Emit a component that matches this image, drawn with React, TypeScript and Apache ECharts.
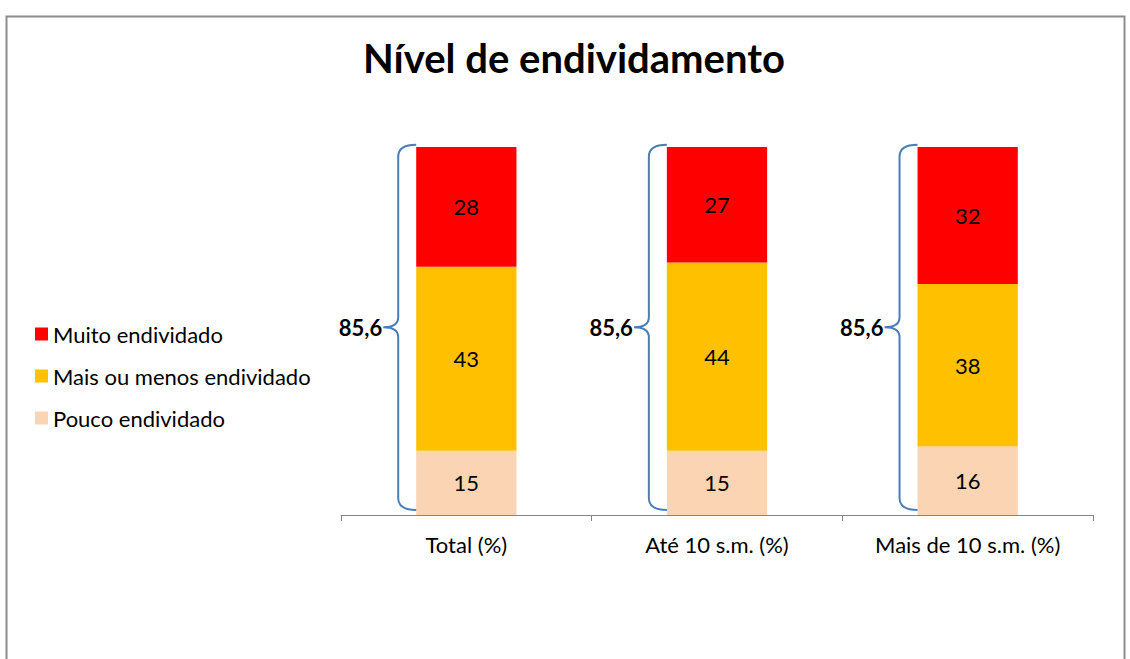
import React, { useEffect, useRef } from "react";
import * as echarts from "echarts";

const categories = ["Total (%)", "Até 10 s.m. (%)", "Mais de 10 s.m. (%)"];
const pouco = [15, 15, 16];
const maisOuMenos = [43, 44, 38];
const muito = [28, 27, 32];
const braceValues = [85.6, 85.6, 85.6];
const legendOrder = ["Muito endividado", "Mais ou menos endividado", "Pouco endividado"];

const FONT = "Lato, 'Open Sans', sans-serif";

export default function App() {
  const ref = useRef<HTMLDivElement>(null);
  useEffect(() => {
    if (!ref.current) return;
    const chart = echarts.init(ref.current, null, { renderer: "svg" });
    const label = {
      show: true,
      position: "inside",
      color: "#000",
      fontSize: 22,
      fontFamily: FONT,
    };
    chart.setOption({
      animation: false,
      backgroundColor: "#fff",
      title: {
        text: "Nível de endividamento",
        left: 574,
        textAlign: "center",
        top: 38,
        padding: 0,
        textStyle: { fontSize: 40, fontWeight: "bold", color: "#000", fontFamily: FONT },
      },
      legend: {
        data: legendOrder,
        orient: "vertical",
        left: 35,
        top: 323,
        padding: 0,
        itemWidth: 13,
        itemHeight: 13,
        itemGap: 20,
        icon: "rect",
        textStyle: { fontSize: 22, color: "#000", fontFamily: FONT, lineHeight: 22 },
      },
      grid: { left: 341, right: 37, top: 147, bottom: 144 },
      xAxis: {
        type: "category",
        data: categories,
        axisLine: { lineStyle: { color: "#868686", width: 1 } },
        axisTick: { show: true, length: 6, lineStyle: { color: "#868686" } },
        axisLabel: { color: "#000", fontSize: 22, fontFamily: FONT, margin: 18 },
      },
      yAxis: { type: "value", min: 0, max: 86, show: false },
      graphic: [
        {
          type: "rect",
          left: 4,
          top: 14,
          shape: { width: 1118, height: 700 },
          style: { fill: "none", stroke: "#8c8c8c", lineWidth: 2 },
          silent: true,
        },
      ],
      series: [
        {
          name: "Pouco endividado",
          type: "bar",
          stack: "a",
          barWidth: "40%",
          data: pouco,
          itemStyle: { color: "#FBD4B4" },
          label,
        },
        {
          name: "Mais ou menos endividado",
          type: "bar",
          stack: "a",
          data: maisOuMenos,
          itemStyle: { color: "#FFC000" },
          label,
        },
        {
          name: "Muito endividado",
          type: "bar",
          stack: "a",
          data: muito,
          itemStyle: { color: "#FF0000" },
          label,
        },
        {
          name: "brace",
          type: "custom",
          data: braceValues.map((v, i) => [i, v]),
          z: 10,
          renderItem: (params: any, api: any) => {
            const idx = api.value(0);
            const v = api.value(1);
            const top = api.coord([idx, v]);
            const bot = api.coord([idx, 0]);
            const cw = api.size([1, 0])[0];
            const xr = top[0] - (cw * 0.4) / 2;
            const xv = xr - 18;
            const tip = xr - 33;
            const yt = top[1] - 4;
            const yb = bot[1] - 5;
            const ym = (yt + yb) / 2;
            const d =
              `M ${xr} ${yt} Q ${xv} ${yt} ${xv} ${yt + 12} ` +
              `L ${xv} ${ym - 10} Q ${xv} ${ym} ${tip} ${ym} ` +
              `Q ${xv} ${ym} ${xv} ${ym + 10} ` +
              `L ${xv} ${yb - 12} Q ${xv} ${yb} ${xr} ${yb}`;
            const txt = String(v).replace(".", ",");
            return {
              type: "group",
              children: [
                {
                  type: "path",
                  shape: { pathData: d },
                  style: { stroke: "#4A7EBB", fill: "none", lineWidth: 2 },
                },
                {
                  type: "text",
                  style: {
                    text: txt,
                    x: tip - 1,
                    y: ym,
                    align: "right",
                    verticalAlign: "middle",
                    font: `bold 22px ${FONT}`,
                    fill: "#000",
                  },
                },
              ],
            };
          },
        },
      ],
    });
    return () => chart.dispose();
  }, []);
  return (
    <div
      ref={ref}
      style={{ position: "fixed", left: 0, top: 0, width: 1130, height: 659 }}
    />
  );
}
